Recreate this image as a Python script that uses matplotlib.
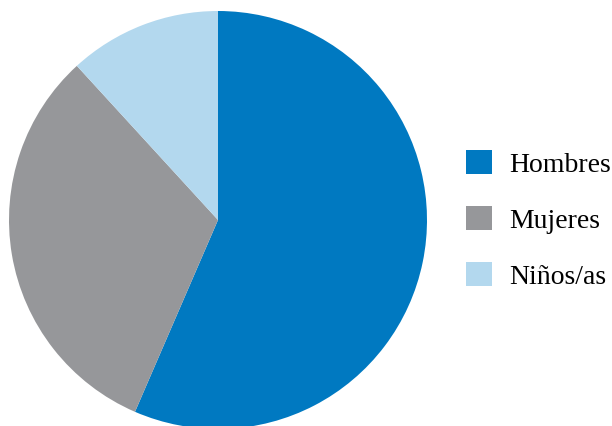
import matplotlib
matplotlib.use("Agg")
import matplotlib.pyplot as plt

categories = ["Hombres", "Mujeres", "Niños/as"]
values = [56.5, 31.7, 11.8]
colors = ["#0079C1", "#96979A", "#B3D8EE"]

plt.rcParams['font.family'] = ['Liberation Serif', 'DejaVu Serif']

W, H = 612, 426
fig = plt.figure(figsize=(W / 100, H / 100), dpi=100)
cx, cy, r = 218, 220, 209
ax = fig.add_axes([(cx - r) / W, (H - cy - r) / H, 2 * r / W, 2 * r / H])
wedges, _ = ax.pie(values, colors=colors, startangle=90, counterclock=False,
                   wedgeprops=dict(linewidth=0))
ax.set_xlim(-1, 1)
ax.set_ylim(-1, 1)
ax.set_aspect('auto')
ax.axis('off')

fig.legend(wedges, categories, loc='center left',
           bbox_to_anchor=(466 / W, 1 - 220 / H), frameon=False,
           fontsize=20, handlelength=0.95, handleheight=0.95,
           handletextpad=0.6, labelspacing=1.03, borderpad=0,
           borderaxespad=0)

fig.savefig("out.png", dpi=100)
